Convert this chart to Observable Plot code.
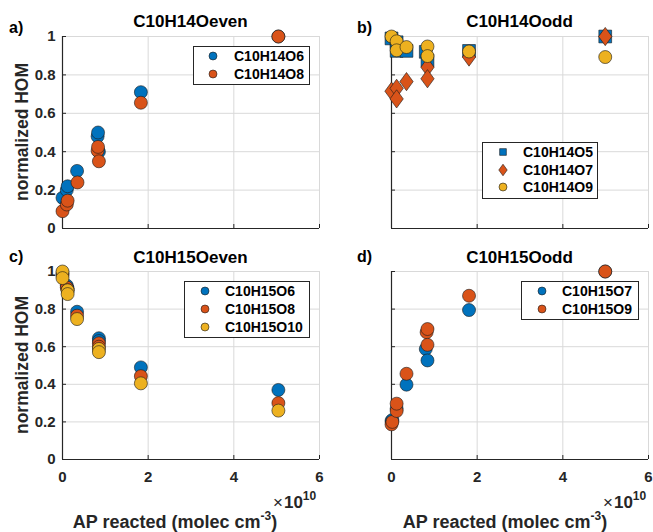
<!DOCTYPE html>
<html>
<head>
<meta charset="utf-8">
<script src="https://cdn.jsdelivr.net/npm/d3@7"></script>
<script src="https://cdn.jsdelivr.net/npm/@observablehq/plot@0.6"></script>
<style>
  html, body { margin: 0; padding: 0; background: #fff; }
  #fig { position: relative; width: 653px; height: 532px; font-family: "Liberation Sans", Arial, sans-serif; }
  #fig > svg.plot, #fig > .p { position: absolute; }
  #overlay { position: absolute; left: 0; top: 0; pointer-events: none; }
</style>
</head>
<body>
<div id="fig"></div>
<script>
// ---------- data (x in units of 1e10 molec cm^-3, y = normalized HOM) ----------
const xTicks = [0, 2, 4, 6];
const yTicks = [0, 0.2, 0.4, 0.6, 0.8, 1];

// a) C10H14Oeven
const a_O6_x = [0.0, 0.10, 0.12, 0.34, 0.85, 0.82, 0.83, 1.83, 5.04];
const a_O6_y = [0.16, 0.20, 0.22, 0.30, 0.40, 0.48, 0.50, 0.71, 1.00];
const a_O8_x = [0.0, 0.10, 0.12, 0.35, 0.82, 0.83, 0.85, 1.83, 5.04];
const a_O8_y = [0.09, 0.125, 0.145, 0.24, 0.405, 0.425, 0.35, 0.655, 1.00];

// b) C10H14Oodd
const b_O5_x = [0.0, 0.12, 0.12, 0.35, 0.80, 0.84, 1.81, 4.99];
const b_O5_y = [0.99, 0.97, 0.925, 0.925, 0.92, 0.875, 0.925, 1.00];
const b_O7_x = [0.0, 0.12, 0.12, 0.35, 0.84, 0.84, 1.81, 4.99];
const b_O7_y = [0.715, 0.73, 0.675, 0.765, 0.84, 0.78, 0.893, 1.00];
const b_O9_x = [0.0, 0.12, 0.12, 0.35, 0.84, 0.84, 1.81, 4.99];
const b_O9_y = [1.00, 0.975, 0.928, 0.945, 0.948, 0.898, 0.922, 0.893];

// c) C10H15Oeven
const c_O6_x = [0.0, 0.10, 0.12, 0.34, 0.85, 0.85, 1.83, 5.04];
const c_O6_y = [0.99, 0.925, 0.91, 0.786, 0.645, 0.63, 0.49, 0.37];
const c_O8_x = [0.0, 0.10, 0.12, 0.34, 0.85, 0.85, 1.83, 5.04];
const c_O8_y = [0.98, 0.915, 0.90, 0.765, 0.618, 0.60, 0.443, 0.30];
const c_O10_x = [0.0, 0.0, 0.12, 0.12, 0.34, 0.85, 0.85, 1.83, 5.04];
const c_O10_y = [1.00, 0.965, 0.90, 0.88, 0.747, 0.588, 0.571, 0.405, 0.26];

// d) C10H15Oodd
const d_O7_x = [0.0, 0.02, 0.12, 0.35, 0.80, 0.84, 1.81, 4.99];
const d_O7_y = [0.205, 0.21, 0.27, 0.398, 0.588, 0.527, 0.795, 1.00];
const d_O9_x = [0.0, 0.02, 0.12, 0.12, 0.35, 0.82, 0.84, 0.84, 1.81, 4.99];
const d_O9_y = [0.187, 0.20, 0.258, 0.297, 0.456, 0.677, 0.694, 0.61, 0.871, 1.00];

const BLUE = "#0072BD", ORANGE = "#D95319", YELLOW = "#EDB120";
const FONT = "'Liberation Sans', Arial, sans-serif";

// MATLAB-like diamond (wider than d3's symbolDiamond)
const fatDiamond = {
  draw(context, size) {
    const s = Math.sqrt(size);
    const h = 0.78 * s, w = 0.57 * s;
    context.moveTo(0, -h);
    context.lineTo(w, 0);
    context.lineTo(0, h);
    context.lineTo(-w, 0);
    context.closePath();
  }
};

function rows(xs, ys) { return xs.map((x, i) => ({x, y: ys[i]})); }

const fig = document.getElementById("fig");
const fmtY = d => String(+d.toFixed(1));

function panel({frame, series, xLabels, yLabels}) {
  const [fx0, fy0, fx1, fy1] = frame;
  const mL = 50, mT = 12, mR = 12, mB = xLabels ? 34 : 12;
  const width = (fx1 - fx0) + mL + mR;
  const height = (fy1 - fy0) + mT + mB;
  const marks = [
    Plot.gridX(xTicks, {stroke: "#d9d9d9", strokeOpacity: 1}),
    Plot.gridY(yTicks, {stroke: "#d9d9d9", strokeOpacity: 1}),
    Plot.axisX(xTicks, {tickSize: -4, tickFormat: () => "", stroke: "#262626", label: null}),
    Plot.axisY(yTicks, {tickSize: -4, tickFormat: () => "", stroke: "#262626", label: null}),
    Plot.ruleX([0], {stroke: "#262626", strokeWidth: 1.2}),
    Plot.ruleY([0], {stroke: "#262626", strokeWidth: 1.2})
  ];
  if (xLabels) marks.push(Plot.axisX(xTicks, {tickSize: 0, tickPadding: 12, label: null, fill: "#262626", fontSize: 15, fontWeight: "bold"}));
  if (yLabels) marks.push(Plot.axisY(yTicks, {tickSize: 0, tickPadding: 7, label: null, tickFormat: fmtY, fill: "#262626", fontSize: 15, fontWeight: "bold"}));
  for (const s of series) {
    marks.push(Plot.dot(rows(s.x, s.y), {x: "x", y: "y", r: s.r, symbol: s.symbol, fill: s.color, stroke: "#1a1a1a", strokeWidth: 0.6}));
  }
  const svg = Plot.plot({
    width, height, marginLeft: mL, marginTop: mT, marginRight: mR, marginBottom: mB,
    x: {domain: [0, 6]},
    y: {domain: [0, 1]},
    style: {fontFamily: FONT, background: "transparent", overflow: "visible"},
    marks
  });
  svg.classList.add("p");
  svg.style.left = (fx0 - mL) + "px";
  svg.style.top = (fy0 - mT) + "px";
  fig.appendChild(svg);
}

const FA = [62, 36, 319, 228], FB = [391, 36, 648, 228], FC = [62, 271, 319, 459], FD = [391, 271, 648, 459];

panel({frame: FA, xLabels: false, yLabels: true, series: [
  {x: a_O6_x, y: a_O6_y, color: BLUE, symbol: "circle", r: 6.5},
  {x: a_O8_x, y: a_O8_y, color: ORANGE, symbol: "circle", r: 6.5}
]});
panel({frame: FB, xLabels: false, yLabels: false, series: [
  {x: b_O5_x, y: b_O5_y, color: BLUE, symbol: "square", r: 7.2},
  {x: b_O7_x, y: b_O7_y, color: ORANGE, symbol: fatDiamond, r: 6.6},
  {x: b_O9_x, y: b_O9_y, color: YELLOW, symbol: "circle", r: 6.5}
]});
panel({frame: FC, xLabels: true, yLabels: true, series: [
  {x: c_O6_x, y: c_O6_y, color: BLUE, symbol: "circle", r: 6.5},
  {x: c_O8_x, y: c_O8_y, color: ORANGE, symbol: "circle", r: 6.5},
  {x: c_O10_x, y: c_O10_y, color: YELLOW, symbol: "circle", r: 6.5}
]});
panel({frame: FD, xLabels: true, yLabels: false, series: [
  {x: d_O7_x, y: d_O7_y, color: BLUE, symbol: "circle", r: 6.5},
  {x: d_O9_x, y: d_O9_y, color: ORANGE, symbol: "circle", r: 6.5}
]});

// ---------- overlay: titles, labels, legends ----------
const ov = d3.select(fig).append("svg").attr("id", "overlay").attr("width", 653).attr("height", 532)
  .style("font-family", FONT).style("font-weight", "bold").attr("fill", "#262626");

const titles = [["C10H14Oeven", 190.5, 27], ["C10H14Oodd", 519.5, 27], ["C10H15Oeven", 190.5, 263], ["C10H15Oodd", 519.5, 263]];
for (const [t, x, y] of titles) ov.append("text").attr("x", x).attr("y", y).attr("text-anchor", "middle").attr("font-size", 17).attr("fill", "#000").text(t);

const tags = [["a)", 9, 33], ["b)", 357, 33], ["c)", 9, 262], ["d)", 357, 262]];
for (const [t, x, y] of tags) ov.append("text").attr("x", x).attr("y", y).attr("font-size", 16).attr("fill", "#000").text(t);

for (const cy of [132, 365]) {
  ov.append("text").attr("transform", `translate(28,${cy}) rotate(-90)`).attr("text-anchor", "middle")
    .attr("font-size", 17.5).attr("fill", "#262626").text("normalized HOM");
}

for (const [x0, cx] of [[273, 175], [603, 505]]) {
  const e = ov.append("text").attr("x", x0).attr("y", 508).attr("font-size", 17).attr("font-weight", "normal").attr("fill", "#262626");
  e.append("tspan").text("\u00d7");
  e.append("tspan").attr("font-weight", "bold").attr("dx", 1).text("10");
  e.append("tspan").attr("font-weight", "bold").attr("font-size", 12).attr("dy", -8).text("10");
  const l = ov.append("text").attr("x", cx).attr("y", 528).attr("text-anchor", "middle").attr("font-size", 18).attr("fill", "#262626");
  l.append("tspan").text("AP reacted (molec cm");
  l.append("tspan").attr("font-size", 12).attr("dy", -8).text("-3");
  l.append("tspan").attr("dy", 8).text(")");
}

function legend(box, mx, tx, rowsY, items) {
  const [x0, y0, x1, y1] = box;
  ov.append("rect").attr("x", x0 + 0.5).attr("y", y0 + 0.5).attr("width", x1 - x0).attr("height", y1 - y0)
    .attr("fill", "#fff").attr("stroke", "#262626").attr("stroke-width", 1);
  items.forEach(([label, color, sym, size], i) => {
    const sy = { circle: d3.symbolCircle, square: d3.symbolSquare, diamond: fatDiamond }[sym];
    ov.append("path").attr("transform", `translate(${mx},${rowsY[i]})`)
      .attr("d", d3.symbol(sy, size)()).attr("fill", color).attr("stroke", "#1a1a1a").attr("stroke-width", 0.6);
    ov.append("text").attr("x", tx).attr("y", rowsY[i]).attr("dy", "0.36em").attr("font-size", 14).attr("fill", "#000").text(label);
  });
}
legend([193, 46, 309, 84], 213, 234, [56, 74], [["C10H14O6", BLUE, "circle", 50], ["C10H14O8", ORANGE, "circle", 50]]);
legend([482, 142, 597, 198], 503, 523, [152, 170, 187], [["C10H14O5", BLUE, "square", 45], ["C10H14O7", ORANGE, "diamond", 55], ["C10H14O9", YELLOW, "circle", 50]]);
legend([184, 281, 309, 337], 205, 225, [291, 309, 327], [["C10H15O6", BLUE, "circle", 50], ["C10H15O8", ORANGE, "circle", 50], ["C10H15O10", YELLOW, "circle", 50]]);
legend([521, 281, 638, 319], 542, 562, [291, 309], [["C10H15O7", BLUE, "circle", 50], ["C10H15O9", ORANGE, "circle", 50]]);
</script>
</body>
</html>
